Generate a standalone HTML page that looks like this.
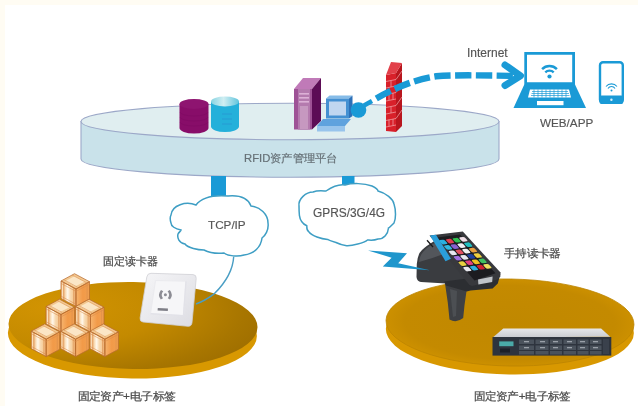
<!DOCTYPE html>
<html><head><meta charset="utf-8">
<style>
html,body{margin:0;padding:0;background:#fff;width:638px;height:406px;overflow:hidden}
svg{display:block;will-change:transform;filter:blur(0.3px);font-family:"Liberation Sans",sans-serif}
</style></head>
<body>
<svg width="638" height="406" viewBox="0 0 638 406">
<defs>
  <radialGradient id="goldL" cx="0.18" cy="0.3" r="0.95">
    <stop offset="0" stop-color="#d29402"/>
    <stop offset="0.45" stop-color="#c48a00"/>
    <stop offset="0.8" stop-color="#a87600"/>
    <stop offset="1" stop-color="#9c6c00"/>
  </radialGradient>
  <radialGradient id="goldR" cx="0.5" cy="0.5" r="0.5">
    <stop offset="0" stop-color="#c08800"/>
    <stop offset="0.85" stop-color="#c48a00"/>
    <stop offset="1" stop-color="#cc9000"/>
  </radialGradient>
  <linearGradient id="cyanTop" x1="0" y1="0" x2="1" y2="0">
    <stop offset="0" stop-color="#88d4e2"/>
    <stop offset="0.45" stop-color="#d0eef2"/>
    <stop offset="1" stop-color="#60c4dc"/>
  </linearGradient>
  <linearGradient id="boxL" x1="0" y1="0" x2="1" y2="0">
    <stop offset="0" stop-color="#f0b070"/>
    <stop offset="0.1" stop-color="#fde6c4"/>
    <stop offset="0.2" stop-color="#eeb47a"/>
    <stop offset="0.32" stop-color="#fbe2c0"/>
    <stop offset="0.45" stop-color="#fff8ec"/>
    <stop offset="0.62" stop-color="#f8dab2"/>
    <stop offset="0.8" stop-color="#f6cc98"/>
    <stop offset="1" stop-color="#e8a060"/>
  </linearGradient>
  <linearGradient id="boxR" x1="0" y1="0" x2="1" y2="0">
    <stop offset="0" stop-color="#f6b46e"/>
    <stop offset="0.5" stop-color="#f29a48"/>
    <stop offset="1" stop-color="#f0a050"/>
  </linearGradient>
  <linearGradient id="rackTop" x1="0" y1="0" x2="0" y2="1">
    <stop offset="0" stop-color="#e6e7ea"/>
    <stop offset="1" stop-color="#c9cbd0"/>
  </linearGradient>
  <linearGradient id="readerG" x1="0" y1="0" x2="1" y2="1">
    <stop offset="0" stop-color="#f6f6f8"/>
    <stop offset="1" stop-color="#dcdce2"/>
  </linearGradient>
</defs>

<!-- faint beige border -->
<rect x="0" y="0" width="638" height="5" fill="#fffcf3"/>
<rect x="0" y="0" width="5" height="406" fill="#fffcf3"/>

<!-- ===== Platform disc ===== -->
<path d="M81,121.5 L81,159 A209,18.2 0 0 0 499,159 L499,121.5 Z" fill="#c9e2ea" stroke="#9ca8c8" stroke-width="1.1"/>
<ellipse cx="290" cy="121.5" rx="209" ry="18.2" fill="#e0eef0" stroke="#9ca8c8" stroke-width="1.1"/>

<!-- pillars -->
<rect x="211" y="176" width="15" height="30" fill="#1a9ad6"/>
<rect x="342" y="176" width="12.5" height="14" fill="#1a9ad6"/>

<!-- database cylinders -->
<g>
  <path d="M179.5,104 L179.5,128 A14.5,5.5 0 0 0 208.5,128 L208.5,104 Z" fill="#880d69"/>
  <ellipse cx="194" cy="104" rx="14.5" ry="5" fill="#8e1470"/>
  <g stroke="#7a0860" stroke-width="0.6" fill="none" opacity="0.7">
    <path d="M180,112 A14,4 0 0 0 208,112"/>
    <path d="M180,117 A14,4 0 0 0 208,117"/>
    <path d="M180,122 A14,4 0 0 0 208,122"/>
  </g>
  <path d="M211,101.5 L211,126.5 A14,5.5 0 0 0 239,126.5 L239,101.5 Z" fill="#24b0da"/>
  <ellipse cx="225" cy="101.5" rx="14" ry="5" fill="url(#cyanTop)"/>
  <g stroke="#2a8fd0" stroke-width="0.8" opacity="0.8">
    <line x1="222" y1="114" x2="232" y2="114"/>
    <line x1="222" y1="119" x2="232" y2="119"/>
    <line x1="222" y1="124" x2="232" y2="124"/>
  </g>
</g>

<!-- server tower -->
<g>
  <polygon points="294,89 312,89 321,78 303,78" fill="#c07ab8"/>
  <polygon points="312,89 321,78 321,121 312,129.5" fill="#5c0c56"/>
  <rect x="294" y="89" width="18" height="40.5" fill="#9e5296"/>
  <rect x="298" y="89" width="12" height="40.5" fill="#b47aae"/>
  <rect x="299" y="93" width="10" height="1.6" fill="#dcb0d6"/>
  <rect x="299" y="97" width="10" height="1.6" fill="#dcb0d6"/>
  <rect x="299" y="101" width="10" height="1.6" fill="#dcb0d6"/>
  <rect x="300" y="106" width="8" height="23" fill="#c698c0"/>
</g>

<!-- computer -->
<g>
  <polygon points="326,98.5 349,98.5 352.5,95.5 329.5,95.5" fill="#86bce8"/>
  <rect x="326" y="98.5" width="23" height="20" fill="#4490d2"/>
  <polygon points="349,98.5 352.5,95.5 352.5,116 349,118.5" fill="#2c70b8"/>
  <rect x="329" y="101.5" width="17" height="14" fill="#c0d6f0"/>
  <polygon points="323,119 351,119 345,126 317,126" fill="#5fa2de"/>
  <polygon points="317,126 345,126 345,131.5 317,131.5" fill="#98c4ec"/>
</g>

<!-- firewall -->
<g>
  <polygon points="386,75 396,73 396,132 386,131" fill="#d8202a"/>
  <polygon points="396,73 402,63 402,126 396,132" fill="#b8161e"/>
  <polygon points="386,75 391,62 402,63 396,73" fill="#e2404a"/>
  <g stroke="#f2a8ac" stroke-width="0.7" fill="none">
    <path d="M386,81.5 L396,79.5 M386,88 L396,86 M386,94.5 L396,92.5 M386,101 L396,99 M386,107.5 L396,105.5 M386,114 L396,112 M386,120.5 L396,118.5 M386,127 L396,125"/>
    <path d="M391,80.5 V87 M389,93.5 V100 M393,93 V99.5 M391,106.5 V113 M389,119.5 V126 M393,119 V125.5"/>
    <path d="M396,79.5 L402,71 M396,92.5 L402,84 M396,105.5 L402,97 M396,118.5 L402,110"/>
  </g>
</g>

<!-- dashed arrow -->
<path d="M364,105.5 L372,101" stroke="#1a9ad6" stroke-width="4.5"/>
<circle cx="358.5" cy="110" r="7.8" fill="#1a9ad6"/>
<path d="M375,99.2 C392,89.5 412,80 436,76.3 C456,74.8 480,75.3 518,76" fill="none" stroke="#1a9ad6" stroke-width="6.4" stroke-dasharray="16.3 4.5" stroke-dashoffset="-1.5"/>
<path d="M505,65 L520.5,75.8 L505,85.5" fill="none" stroke="#1a9ad6" stroke-width="7" stroke-linejoin="round" stroke-linecap="round"/>

<!-- laptop -->
<g fill="#1a9ad6">
  <path d="M524.3,52 H575 V85 H524.3 Z M527,54.8 V82.2 H572.2 V54.8 Z" fill-rule="evenodd"/>
  <polygon points="524.3,84.5 575,84.5 586,108 513.5,108"/>
</g>
<g fill="#ffffff">
  <polygon points="530,89.5 569,89.5 571,97.5 528,97.5"/>
  <rect x="537" y="101" width="26.5" height="4.2"/>
</g>
<g stroke="#1a9ad6" stroke-width="0.7">
  <path d="M532,91.5 H568 M531.5,93.5 H569 M531,95.5 H569.5"/>
  <path d="M534,89.5 V97.5 M538,89.5 V97.5 M542,89.5 V97.5 M546,89.5 V97.5 M550,89.5 V97.5 M554,89.5 V97.5 M558,89.5 V97.5 M562,89.5 V97.5 M566,89.5 V97.5"/>
</g>
<g stroke="#1a9ad6" fill="none" stroke-width="2">
  <path d="M542.1,69.1 A10.5,10.5 0 0 1 556.9,69.1" stroke-width="2.5"/>
  <path d="M545.3,72.3 A6,6 0 0 1 553.7,72.3" stroke-width="2.4"/>
</g>
<circle cx="549.5" cy="76.5" r="2.1" fill="#1a9ad6"/>

<!-- phone -->
<rect x="600" y="62.3" width="22.8" height="40.5" rx="3" fill="none" stroke="#1a9ad6" stroke-width="2.4"/>
<rect x="599.5" y="95.5" width="23.8" height="8.5" rx="2" fill="#1a9ad6"/>
<circle cx="611.4" cy="99.7" r="1.2" fill="#d8eef8"/>
<g stroke="#1a9ad6" fill="none" stroke-width="1.1">
  <path d="M606,86.5 A7,7 0 0 1 617,86.5"/>
  <path d="M608,88.5 A4,4 0 0 1 615,88.5"/>
</g>
<circle cx="611.5" cy="90.5" r="1" fill="#1a9ad6"/>

<!-- texts top -->
<text x="467" y="57" font-size="12" fill="#555" stroke="#555" stroke-width="0.15">Internet</text>
<text x="540" y="127" font-size="11.7" fill="#555" stroke="#555" stroke-width="0.15">WEB/APP</text>
<text transform="translate(244,161.5) scale(1.025,1)" font-size="11" fill="#667076" stroke="#667076" stroke-width="0.2">RFID资产管理平台</text>

<!-- ===== clouds ===== -->
<path d="M171,215 C172,205 186,201 196,205 C202,197 215,195 228,196 C240,195 248,198 251,206 C260,207 268,214 268,223 C269,230 265,236 262,238 C261,247 254,254 244,255 C238,257 228,256 224,253 C215,254 208,252 204,250 C198,250 188,248 185,244 C179,243 177,238 178,234 C179,232 181,231 181,230 C175,229 171,226 171,223 C170,220 170,217 171,215 Z" fill="#fff" stroke="#3e9ec4" stroke-width="1.5"/>
<text x="208" y="229" font-size="11.7" fill="#555" stroke="#555" stroke-width="0.15">TCP/IP</text>

<path d="M299,206 C298,199 306,192 313,192 C318,190 324,191 326,191 C332,187 339,184 345,185 C352,183 364,183 372,186 C376,188 378,190 378,191 C386,193 393,199 394,204 C396,210 396,219 394,223 C391,226 389,228 388.5,228 C388,234 384,239 378,239 C373,241 369,240 367.5,240 C364,243 352,246 346.6,245.7 C341,245 337,243 336,242.5 C331,241 328,240 327.7,239.4 C321,239 312,236 309,232 C306,230 307,227 306.8,225.8 C303,224 300,220 299.4,215.3 C299,211 299,208 299,206 Z" fill="#fff" stroke="#3e9ec4" stroke-width="1.5"/>
<text x="313" y="216.5" font-size="11.9" fill="#555" stroke="#555" stroke-width="0.15">GPRS/3G/4G</text>

<!-- ===== left gold disc ===== -->
<g transform="rotate(0.8 132.5 326)">
  <ellipse cx="132.5" cy="334.5" rx="124.5" ry="44" fill="#d89800"/>
  <ellipse cx="133" cy="325.5" rx="124.5" ry="43.5" fill="url(#goldL)"/>
</g>

<!-- line from cloud to reader -->
<path d="M233.7,256.6 C233,270 227,281 214.5,293.6 C208,298.5 203,301.5 196,304" fill="none" stroke="#4a9ec4" stroke-width="1.4"/>

<!-- boxes -->

<g transform="translate(76 289)">
    <polygon points="0,0 -15,-8 -1.5,-15.3 13.5,-7.3" fill="#f3c890"/>
    <polygon points="-1,-2.6 -10.5,-7.9 -1.5,-12.7 8.5,-7.3" fill="#fbe6c6"/>
    <polygon points="-15,-8 0,0 0,17.4 -15,9.4" fill="url(#boxL)"/>
    <polygon points="0,0 13.5,-7.3 13.5,10.1 0,17.4" fill="url(#boxR)"/>
    <g fill="none" stroke="#b86c30" stroke-width="0.75">
      <polygon points="0,0 -15,-8 -1.5,-15.3 13.5,-7.3"/>
      <polygon points="-15,-8 0,0 0,17.4 -15,9.4"/>
      <polygon points="0,0 13.5,-7.3 13.5,10.1 0,17.4"/>
    </g>
    <g fill="none" stroke="#d98c4c" stroke-width="0.55">
      <path d="M-15,-5.6 L0,2.4 M-15,7.2 L0,15.2 M-12.6,-6.7 V10.7 M-2.4,-1.3 V16.1"/>
      <path d="M0,2.4 L13.5,-4.9 M11.1,-6 V11.4"/>
      <path d="M-12.3,-9.4 L1.2,-2 M-3.9,-14 L11.1,-6"/>
    </g>
  </g>
<g transform="translate(61 314.5)">
    <polygon points="0,0 -15,-8 -1.5,-15.3 13.5,-7.3" fill="#f3c890"/>
    <polygon points="-1,-2.6 -10.5,-7.9 -1.5,-12.7 8.5,-7.3" fill="#fbe6c6"/>
    <polygon points="-15,-8 0,0 0,17.4 -15,9.4" fill="url(#boxL)"/>
    <polygon points="0,0 13.5,-7.3 13.5,10.1 0,17.4" fill="url(#boxR)"/>
    <g fill="none" stroke="#b86c30" stroke-width="0.75">
      <polygon points="0,0 -15,-8 -1.5,-15.3 13.5,-7.3"/>
      <polygon points="-15,-8 0,0 0,17.4 -15,9.4"/>
      <polygon points="0,0 13.5,-7.3 13.5,10.1 0,17.4"/>
    </g>
    <g fill="none" stroke="#d98c4c" stroke-width="0.55">
      <path d="M-15,-5.6 L0,2.4 M-15,7.2 L0,15.2 M-12.6,-6.7 V10.7 M-2.4,-1.3 V16.1"/>
      <path d="M0,2.4 L13.5,-4.9 M11.1,-6 V11.4"/>
      <path d="M-12.3,-9.4 L1.2,-2 M-3.9,-14 L11.1,-6"/>
    </g>
  </g>
<g transform="translate(90.5 314.5)">
    <polygon points="0,0 -15,-8 -1.5,-15.3 13.5,-7.3" fill="#f3c890"/>
    <polygon points="-1,-2.6 -10.5,-7.9 -1.5,-12.7 8.5,-7.3" fill="#fbe6c6"/>
    <polygon points="-15,-8 0,0 0,17.4 -15,9.4" fill="url(#boxL)"/>
    <polygon points="0,0 13.5,-7.3 13.5,10.1 0,17.4" fill="url(#boxR)"/>
    <g fill="none" stroke="#b86c30" stroke-width="0.75">
      <polygon points="0,0 -15,-8 -1.5,-15.3 13.5,-7.3"/>
      <polygon points="-15,-8 0,0 0,17.4 -15,9.4"/>
      <polygon points="0,0 13.5,-7.3 13.5,10.1 0,17.4"/>
    </g>
    <g fill="none" stroke="#d98c4c" stroke-width="0.55">
      <path d="M-15,-5.6 L0,2.4 M-15,7.2 L0,15.2 M-12.6,-6.7 V10.7 M-2.4,-1.3 V16.1"/>
      <path d="M0,2.4 L13.5,-4.9 M11.1,-6 V11.4"/>
      <path d="M-12.3,-9.4 L1.2,-2 M-3.9,-14 L11.1,-6"/>
    </g>
  </g>
<g transform="translate(46.2 339.2)">
    <polygon points="0,0 -15,-8 -1.5,-15.3 13.5,-7.3" fill="#f3c890"/>
    <polygon points="-1,-2.6 -10.5,-7.9 -1.5,-12.7 8.5,-7.3" fill="#fbe6c6"/>
    <polygon points="-15,-8 0,0 0,17.4 -15,9.4" fill="url(#boxL)"/>
    <polygon points="0,0 13.5,-7.3 13.5,10.1 0,17.4" fill="url(#boxR)"/>
    <g fill="none" stroke="#b86c30" stroke-width="0.75">
      <polygon points="0,0 -15,-8 -1.5,-15.3 13.5,-7.3"/>
      <polygon points="-15,-8 0,0 0,17.4 -15,9.4"/>
      <polygon points="0,0 13.5,-7.3 13.5,10.1 0,17.4"/>
    </g>
    <g fill="none" stroke="#d98c4c" stroke-width="0.55">
      <path d="M-15,-5.6 L0,2.4 M-15,7.2 L0,15.2 M-12.6,-6.7 V10.7 M-2.4,-1.3 V16.1"/>
      <path d="M0,2.4 L13.5,-4.9 M11.1,-6 V11.4"/>
      <path d="M-12.3,-9.4 L1.2,-2 M-3.9,-14 L11.1,-6"/>
    </g>
  </g>
<g transform="translate(75.6 339.2)">
    <polygon points="0,0 -15,-8 -1.5,-15.3 13.5,-7.3" fill="#f3c890"/>
    <polygon points="-1,-2.6 -10.5,-7.9 -1.5,-12.7 8.5,-7.3" fill="#fbe6c6"/>
    <polygon points="-15,-8 0,0 0,17.4 -15,9.4" fill="url(#boxL)"/>
    <polygon points="0,0 13.5,-7.3 13.5,10.1 0,17.4" fill="url(#boxR)"/>
    <g fill="none" stroke="#b86c30" stroke-width="0.75">
      <polygon points="0,0 -15,-8 -1.5,-15.3 13.5,-7.3"/>
      <polygon points="-15,-8 0,0 0,17.4 -15,9.4"/>
      <polygon points="0,0 13.5,-7.3 13.5,10.1 0,17.4"/>
    </g>
    <g fill="none" stroke="#d98c4c" stroke-width="0.55">
      <path d="M-15,-5.6 L0,2.4 M-15,7.2 L0,15.2 M-12.6,-6.7 V10.7 M-2.4,-1.3 V16.1"/>
      <path d="M0,2.4 L13.5,-4.9 M11.1,-6 V11.4"/>
      <path d="M-12.3,-9.4 L1.2,-2 M-3.9,-14 L11.1,-6"/>
    </g>
  </g>
<g transform="translate(104.9 339.2)">
    <polygon points="0,0 -15,-8 -1.5,-15.3 13.5,-7.3" fill="#f3c890"/>
    <polygon points="-1,-2.6 -10.5,-7.9 -1.5,-12.7 8.5,-7.3" fill="#fbe6c6"/>
    <polygon points="-15,-8 0,0 0,17.4 -15,9.4" fill="url(#boxL)"/>
    <polygon points="0,0 13.5,-7.3 13.5,10.1 0,17.4" fill="url(#boxR)"/>
    <g fill="none" stroke="#b86c30" stroke-width="0.75">
      <polygon points="0,0 -15,-8 -1.5,-15.3 13.5,-7.3"/>
      <polygon points="-15,-8 0,0 0,17.4 -15,9.4"/>
      <polygon points="0,0 13.5,-7.3 13.5,10.1 0,17.4"/>
    </g>
    <g fill="none" stroke="#d98c4c" stroke-width="0.55">
      <path d="M-15,-5.6 L0,2.4 M-15,7.2 L0,15.2 M-12.6,-6.7 V10.7 M-2.4,-1.3 V16.1"/>
      <path d="M0,2.4 L13.5,-4.9 M11.1,-6 V11.4"/>
      <path d="M-12.3,-9.4 L1.2,-2 M-3.9,-14 L11.1,-6"/>
    </g>
  </g>

<!-- wall reader -->
<g>
  <path d="M151,273.3 L193,274.6 Q196.5,274.8 196.2,278.5 L192,322.5 Q191.6,326.5 188,326.3 L143,322 Q139.6,321.6 140.1,318 L146.8,277 Q147.5,273.2 151,273.3 Z" fill="url(#readerG)" stroke="#d0d0d6" stroke-width="0.8"/>
  <path d="M155.5,280.5 L186,281.2 L183.5,315.7 L150.5,313.8 Z" fill="#f6f6f8" stroke="#ebebef" stroke-width="1"/>
  <path d="M150.5,313.8 L183.5,315.7 L186,281.2" fill="none" stroke="#e2e2e8" stroke-width="1.4"/>
  <g fill="#8c8c94">
    <path d="M161,290 Q157,294.8 160.8,299.6 L163,298.3 Q160.3,294.8 163.2,291.2 Z"/>
    <path d="M169.8,290 Q173.8,294.8 170,299.6 L167.8,298.3 Q170.5,294.8 167.6,291.2 Z"/>
    <circle cx="165.4" cy="294.8" r="1.5"/>
  </g>
  <polygon points="157.8,308 168,308.4 167.8,311 157.6,310.6" fill="#7e7e86"/>
</g>

<!-- ===== right gold disc ===== -->
<g transform="rotate(1 510 322.5)">
  <ellipse cx="510" cy="331" rx="124" ry="43.5" fill="#d89800"/>
  <ellipse cx="510" cy="322.5" rx="124" ry="43.5" fill="url(#goldR)" stroke="#bc8400" stroke-width="0.8"/>
</g>

<!-- rack server -->
<g>
  <polygon points="503.3,328.5 601.1,328.5 610.2,336.8 493.1,337.3" fill="url(#rackTop)"/>
  <rect x="492.5" y="337" width="118.8" height="18.6" fill="#2e343e"/>
  <rect x="499.2" y="341.4" width="14.3" height="4.8" fill="#4aaaa8"/>
  <rect x="500" y="348.5" width="10" height="4" fill="#1c2028"/>
  <g fill="#4a525c">
    <rect x="519" y="339.5" width="15" height="4.5"/><rect x="535.5" y="339.5" width="13" height="4.5"/><rect x="550" y="339.5" width="12" height="4.5"/><rect x="563.5" y="339.5" width="12.5" height="4.5"/><rect x="577.5" y="339.5" width="11" height="4.5"/><rect x="590" y="339.5" width="11.5" height="4.5"/>
    <rect x="519" y="345.5" width="15" height="4.5"/><rect x="535.5" y="345.5" width="13" height="4.5"/><rect x="550" y="345.5" width="12" height="4.5"/><rect x="563.5" y="345.5" width="12.5" height="4.5"/><rect x="577.5" y="345.5" width="11" height="4.5"/><rect x="590" y="345.5" width="11.5" height="4.5"/>
    <rect x="519" y="351" width="15" height="3.5"/><rect x="535.5" y="351" width="13" height="3.5"/><rect x="550" y="351" width="12" height="3.5"/><rect x="563.5" y="351" width="12.5" height="3.5"/><rect x="577.5" y="351" width="11" height="3.5"/><rect x="590" y="351" width="11.5" height="3.5"/>
  </g>
  <g fill="#9aa0a8">
    <rect x="524" y="341" width="5" height="1.3"/><rect x="540" y="341" width="5" height="1.3"/><rect x="553" y="341" width="5" height="1.3"/><rect x="567" y="341" width="5" height="1.3"/><rect x="580" y="341" width="5" height="1.3"/><rect x="593" y="341" width="5" height="1.3"/>
    <rect x="524" y="347" width="5" height="1.3"/><rect x="540" y="347" width="5" height="1.3"/><rect x="553" y="347" width="5" height="1.3"/><rect x="567" y="347" width="5" height="1.3"/><rect x="580" y="347" width="5" height="1.3"/><rect x="593" y="347" width="5" height="1.3"/>
  </g>
  <rect x="603" y="339" width="6" height="15" fill="#3a414c"/>
</g>


<!-- handheld -->
<g>
  <path d="M436,240 L452,258 L470,284.7 L446,283.4 L421,282 Q417,281.5 416.5,277 L416.8,264 Q417.5,254 422,250 Q426,246 436,240 Z" fill="#3a3c40"/>
  <path d="M423,252 Q428,246 437,242 L446,253 Q434,258 419,262 Q419.5,256 423,252 Z" fill="#5c5f64" opacity="0.75"/>
  <path d="M445,283.4 L466.7,289.8 L464.5,305.3 L463.2,318 Q456.4,323.5 449.5,319.5 L447.8,302.8 Z" fill="#3e4044"/>
  <path d="M450,289 L457,291 L456,316 L453,317 Z" fill="#5a5d62" opacity="0.5"/>
  <polygon points="444,281.5 500.3,274.3 497.8,283.4 492.6,288.5 470.6,290.5 466.7,291.5 446,285.5" fill="#2c2e32"/>
  <line x1="427" y1="240.2" x2="433" y2="247" stroke="#1a1a1c" stroke-width="1.3"/>
  <polygon points="429.5,235.5 462.8,231.6 500.5,272.5 500.3,276.5 497.5,279.5 472,286 469.5,285" fill="#38393d"/>
  <polygon points="437,237.5 460,234.6 495.5,273.2 474.5,280.5" fill="#1c1c20"/>
  <polygon points="430,235.4 436,234.7 451,258.8 445.5,261.3" fill="#2b9fda"/>
  <polygon points="478,279.5 492.6,276.6 492.2,282 478.4,284.5" fill="#c0c4c9"/>
  <g transform="matrix(0.957 -0.129 0.686 0.771 436.1 239.3)">
    <rect x="1.5" y="1.5" width="5.9" height="5.6" rx="1.5" fill="#2ab0e0"/>
    <rect x="8.5" y="1.5" width="5.9" height="5.6" rx="1.5" fill="#e04050"/>
    <rect x="15.5" y="1.5" width="5.9" height="5.6" rx="1.5" fill="#30c050"/>
    <rect x="22.5" y="1.5" width="5.9" height="5.6" rx="1.5" fill="#f0e0e8"/>
    <rect x="1.5" y="8.5" width="5.9" height="5.6" rx="1.5" fill="#30b8e0"/>
    <rect x="8.5" y="8.5" width="5.9" height="5.6" rx="1.5" fill="#8a60d0"/>
    <rect x="15.5" y="8.5" width="5.9" height="5.6" rx="1.5" fill="#f0f0f4"/>
    <rect x="22.5" y="8.5" width="5.9" height="5.6" rx="1.5" fill="#20c0c0"/>
    <rect x="1.5" y="15.5" width="5.9" height="5.6" rx="1.5" fill="#e8e8f0"/>
    <rect x="8.5" y="15.5" width="5.9" height="5.6" rx="1.5" fill="#e05060"/>
    <rect x="15.5" y="15.5" width="5.9" height="5.6" rx="1.5" fill="#f0f0f0"/>
    <rect x="22.5" y="15.5" width="5.9" height="5.6" rx="1.5" fill="#e8a040"/>
    <rect x="1.5" y="22.5" width="5.9" height="5.6" rx="1.5" fill="#a070e0"/>
    <rect x="8.5" y="22.5" width="5.9" height="5.6" rx="1.5" fill="#e8e8f0"/>
    <rect x="15.5" y="22.5" width="5.9" height="5.6" rx="1.5" fill="#2040a0"/>
    <rect x="22.5" y="22.5" width="5.9" height="5.6" rx="1.5" fill="#f0d040"/>
    <rect x="1.5" y="29.5" width="5.9" height="5.6" rx="1.5" fill="#e8d040"/>
    <rect x="8.5" y="29.5" width="5.9" height="5.6" rx="1.5" fill="#e04080"/>
    <rect x="15.5" y="29.5" width="5.9" height="5.6" rx="1.5" fill="#f0c020"/>
    <rect x="22.5" y="29.5" width="5.9" height="5.6" rx="1.5" fill="#40c060"/>
    <rect x="1.5" y="36.5" width="5.9" height="5.6" rx="1.5" fill="#e8e8ee"/>
    <rect x="8.5" y="36.5" width="5.9" height="5.6" rx="1.5" fill="#30b0e0"/>
    <rect x="15.5" y="36.5" width="5.9" height="5.6" rx="1.5" fill="#d02030"/>
    <rect x="22.5" y="36.5" width="5.9" height="5.6" rx="1.5" fill="#f0e060"/>
  </g>
</g>

<!-- lightning -->
<polygon points="368,250.4 407,253.3 398.2,263.2 430,270.3 382.8,266.5 391.6,257.7" fill="#1f96cc"/>

<!-- texts bottom -->
<text x="103" y="264.5" font-size="11" fill="#4a4a4a" stroke="#4a4a4a" stroke-width="0.22">固定读卡器</text>
<text transform="translate(504,256.5) scale(1.06,1)" font-size="11" fill="#4a4a4a" stroke="#4a4a4a" stroke-width="0.22">手持读卡器</text>
<text transform="translate(77.5,400) scale(1.075,1)" font-size="11" fill="#4a4a4a" stroke="#4a4a4a" stroke-width="0.22">固定资产+电子标签</text>
<text transform="translate(473.5,400) scale(1.055,1)" font-size="11" fill="#4a4a4a" stroke="#4a4a4a" stroke-width="0.22">固定资产+电子标签</text>
</svg>
</body></html>
